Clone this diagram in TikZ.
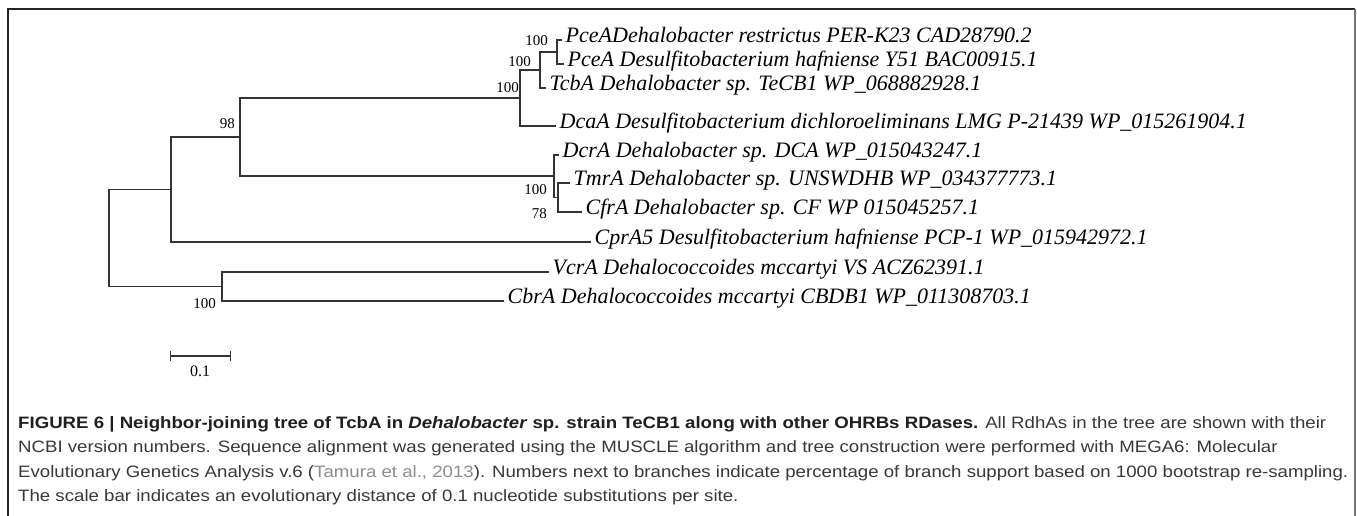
\documentclass[tikz,border=0pt]{standalone}
\usepackage{fontspec}
\usepackage{graphicx}
\setmainfont{Liberation Serif}
\newfontfamily\capfont{Liberation Sans}
\newcommand{\capwide}[1]{\scalebox{1.13}[1]{#1}}
\usetikzlibrary{positioning,arrows.meta}

\begin{document}
\begin{tikzpicture}[x=1pt,y=-1pt]
\tikzset{branch/.style={draw=black!80, line width=1.2pt},
	taxon/.style={anchor=mid west, inner xsep=3.5pt, inner ysep=0pt, font=\fontsize{22}{24}\selectfont\itshape},
	boot/.style={anchor=east, inner sep=0pt, font=\fontsize{15}{17}\selectfont},
	capline/.style={anchor=base west, inner sep=0pt, text=black!78, font=\capfont\fontsize{16.5}{19}\selectfont}}
\useasboundingbox (0,0) rectangle (1357,516);
% frame
\draw[line width=1.3pt, black!85] (8,516) -- (8,9) -- (1355,9);
\draw[line width=1.3pt, black!55] (1355,9) -- (1355,516);
% taxa
\node[taxon] (pceadr) at (562,40) {PceADehalobacter restrictus PER-K23 CAD28790.2};
\node[taxon] (pceadh) at (564,64) {PceA Desulfitobacterium hafniense Y51 BAC00915.1};
\node[taxon] (tcba) at (546,88) {TcbA Dehalobacter sp. TeCB1 WP\_068882928.1};
\node[taxon] (dcaa) at (556,126) {DcaA Desulfitobacterium dichloroeliminans LMG P-21439 WP\_015261904.1};
\node[taxon] (dcra) at (559,155) {DcrA Dehalobacter sp. DCA WP\_015043247.1};
\node[taxon] (tmra) at (570,183) {TmrA Dehalobacter sp. UNSWDHB WP\_034377773.1};
\node[taxon] (cfra) at (582,212) {CfrA Dehalobacter sp. CF WP 015045257.1};
\node[taxon] (cpra5) at (591,242) {CprA5 Desulfitobacterium hafniense PCP-1 WP\_015942972.1};
\node[taxon] (vcra) at (549,272) {VcrA Dehalococcoides mccartyi VS ACZ62391.1};
\node[taxon] (cbra) at (504,301) {CbrA Dehalococcoides mccartyi CBDB1 WP\_011308703.1};
% inner nodes
\coordinate (n5) at (557,52);
\coordinate (n4) at (540,70);
\coordinate (n3) at (520,98);
\coordinate (n7) at (558,197.5);
\coordinate (n6) at (554,176);
\coordinate (n2) at (240,137);
\coordinate (n1) at (171,189.5);
\coordinate (n8) at (222,286.5);
\coordinate (root) at (109,238);
% branches
\draw[branch] (pceadr.mid west) -| (n5) |- (pceadh.mid west);
\draw[branch] (n5) -| (n4) |- (tcba.mid west);
\draw[branch] (n4) -| (n3) |- (dcaa.mid west);
\draw[branch] (tmra.mid west) -| (n7) |- (cfra.mid west);
\draw[branch] (dcra.mid west) -| (n6) |- (n7);
\draw[branch] (n3) -| (n2) |- (n6);
\draw[branch] (n2) -| (n1) |- (cpra5.mid west);
\draw[branch] (vcra.mid west) -| (n8) |- (cbra.mid west);
\draw[branch] (n1) -| (root) |- (n8);
% bootstrap values
\node[boot] (b5) at (548,41) {100};
\node[boot] (b4) at (531,62) {100};
\node[boot] (b3) at (519,88) {100};
\node[boot] (b2) at (235,124) {98};
\node[boot] (b6) at (547,190) {100};
\node[boot] (b7) at (547,214) {78};
\node[boot] (b8) at (216,304) {100};
% scale bar
\coordinate (sbl) at (170,356);
\coordinate (sbr) at (231,356);
\draw[branch, {Bar[width=10pt]}-{Bar[width=10pt]}] (sbl) -- (sbr);
\node[boot, anchor=center, font=\fontsize{16}{18}\selectfont] (sblabel) at (200,371) {0.1};
% caption
\node[capline] (cap1) at (18,428) {\capwide{{\bfseries\color{black!88}FIGURE 6 | Neighbor-joining tree of TcbA in \textit{Dehalobacter} sp. strain TeCB1 along with other OHRBs RDases.} All RdhAs in the tree are shown with their}};
\node[capline] (cap2) at (18,452) {\capwide{NCBI version numbers. Sequence alignment was generated using the MUSCLE algorithm and tree construction were performed with MEGA6: Molecular}};
\node[capline] (cap3) at (18,477) {\capwide{Evolutionary Genetics Analysis v.6 ({\color{black!45}Tamura et al., 2013}). Numbers next to branches indicate percentage of branch support based on 1000 bootstrap re-sampling.}};
\node[capline] (cap4) at (18,501) {\capwide{The scale bar indicates an evolutionary distance of 0.1 nucleotide substitutions per site.}};
\end{tikzpicture}
\end{document}
